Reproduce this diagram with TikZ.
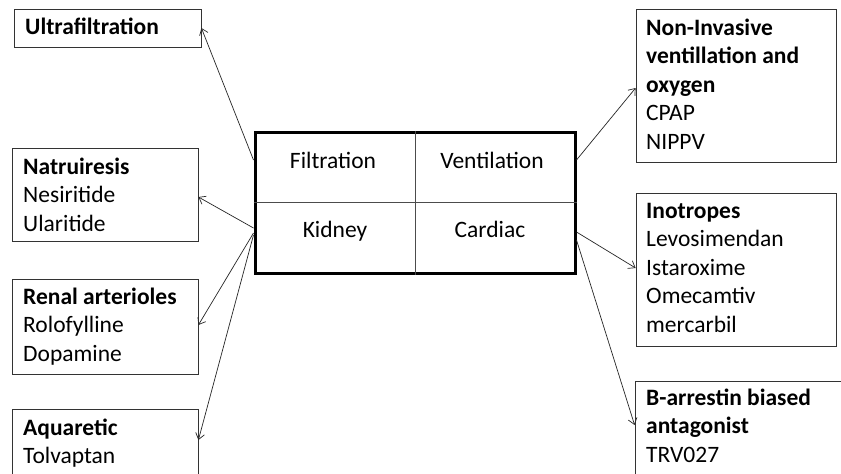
\documentclass[tikz,border=0pt]{standalone}
\usepackage{fontspec}
\setmainfont{Carlito}
\usetikzlibrary{arrows.meta}
\newcommand{\boxlines}[1]{\begin{tabular}[t]{@{}l@{}}#1\end{tabular}}
\begin{document}
\begin{tikzpicture}[x=1pt,y=-1pt,
  box/.style={draw=black!80,line width=0.8pt,inner sep=0pt},
  txt/.style={anchor=base west,inner sep=0pt,font=\fontsize{23.5}{28.5}\selectfont},
  ctxt/.style={anchor=base,inner sep=0pt,font=\fontsize{23.5}{28}\selectfont},
  arr/.style={draw=black!85,line width=0.7pt,-{Straight Barb[length=6pt,width=9pt]}},
  divider/.style={draw=black!70,line width=0.8pt}]
\useasboundingbox[fill=white] (0,0) rectangle (841,474);
% central box
\node[draw=black,line width=3pt,minimum width=320pt,minimum height=141pt,inner sep=0pt] (core) at (415,202.5) {};
\draw[divider] (core.north) -- (core.south);
\draw[divider] (core.west) -- (core.east);
\node[ctxt] (filt) at (333,168) {Filtration};
\node[ctxt] (vent) at (492,168) {Ventilation};
\node[ctxt] (kid) at (335,237) {Kidney};
\node[ctxt] (card) at (490,237) {Cardiac};
% left boxes
\node[box,minimum width=187pt,minimum height=38pt] (ultra) at (107.5,28) {};
\node[txt] (ultraT) at (25,34) {\textbf{Ultrafiltration}};
\node[box,minimum width=186pt,minimum height=93pt] (natr) at (105,194.5) {};
\node[txt] (natrT) at (23,174) {\boxlines{\textbf{Natruiresis}\\Nesiritide\\Ularitide}};
\node[box,minimum width=186pt,minimum height=95pt] (renal) at (105,326.5) {};
\node[txt] (renalT) at (23,304) {\boxlines{\textbf{Renal arterioles}\\Rolofylline\\Dopamine}};
\node[box,minimum width=186pt,minimum height=81pt] (aqua) at (105,449.5) {};
\node[txt] (aquaT) at (23,435) {\boxlines{\textbf{Aquaretic}\\Tolvaptan}};
% right boxes
\node[box,minimum width=200pt,minimum height=153pt] (noninv) at (736,85.5) {};
\node[txt] (noninvT) at (646,35) {\boxlines{\textbf{Non-Invasive}\\\textbf{ventillation and}\\\textbf{oxygen}\\CPAP\\NIPPV}};
\node[box,minimum width=200pt,minimum height=153pt] (ino) at (736,269.5) {};
\node[txt] (inoT) at (646,218) {\boxlines{\textbf{Inotropes}\\Levosimendan\\Istaroxime\\Omecamtiv\\mercarbil}};
\node[box,minimum width=225pt,minimum height=109pt] (barr) at (747.5,435.5) {};
\node[txt] (barrT) at (646,405) {\boxlines{\textbf{B-arrestin biased}\\\textbf{antagonist}\\TRV027}};
% connectors
\draw[arr] (core.west |- 0,160) -- (ultra.east);
\draw[arr] (core.west |- 0,228) -- (natr.east |- 0,197);
\draw[arr] (core.west |- 0,233) -- (renal.east |- 0,325);
\draw[arr] (core.west |- 0,235) -- (aqua.east |- 0,440);
\draw[arr] (core.east |- 0,160) -- (noninv.west |- 0,88);
\draw[arr] (core.east |- 0,232) -- (ino.west |- 0,268);
\draw[arr] (core.east |- 0,240) -- (barr.west |- 0,425);
\end{tikzpicture}
\end{document}
